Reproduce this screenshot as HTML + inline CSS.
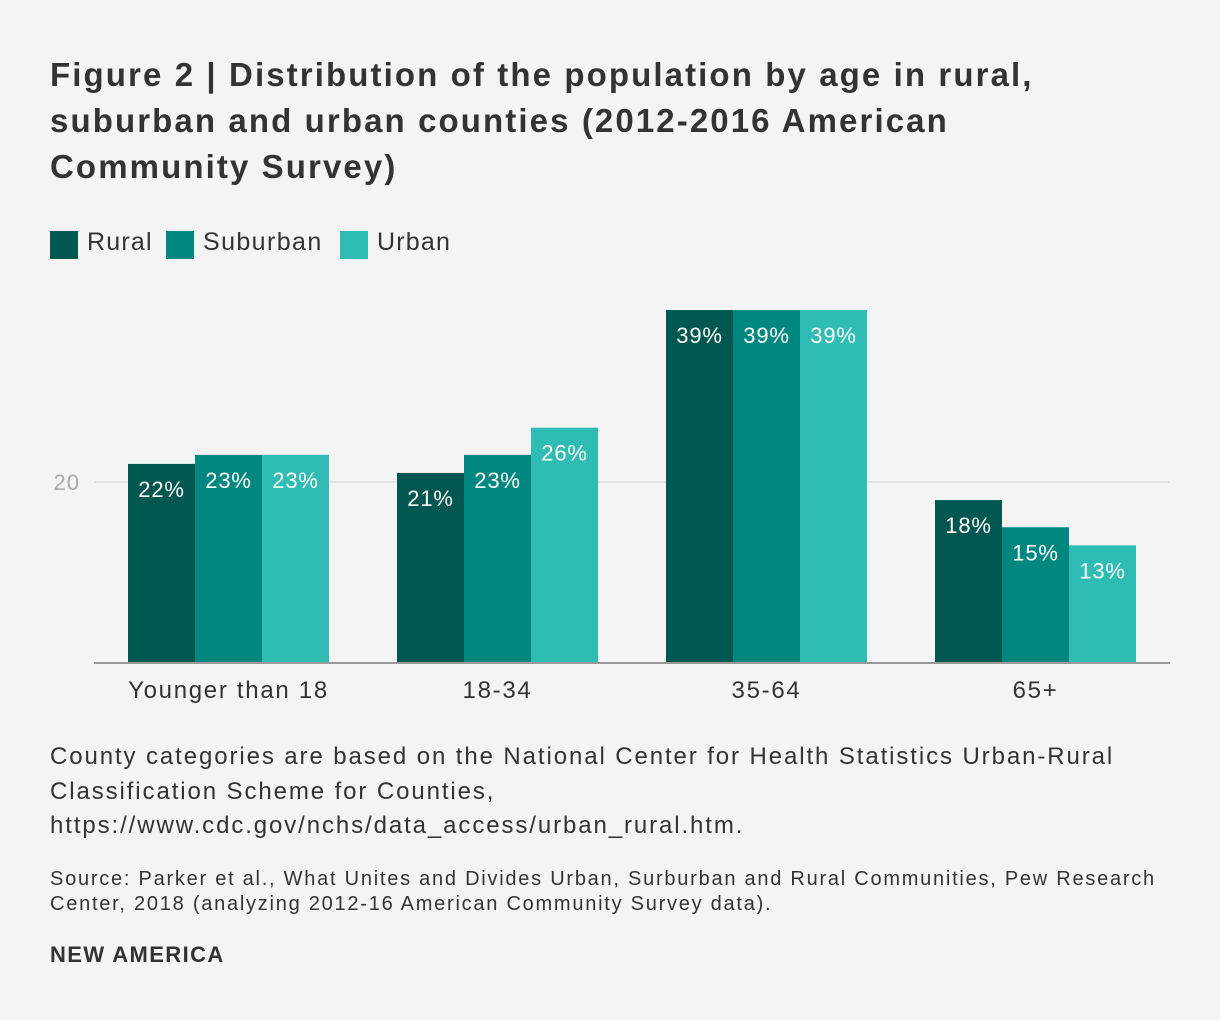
<!DOCTYPE html>
<html><head><meta charset="utf-8"><style>
body{margin:0;background:#f4f4f4;font-family:"Liberation Sans",sans-serif;color:#333;}
#wrap{position:relative;width:1220px;height:1020px;overflow:hidden;}
.t{position:absolute;white-space:nowrap;}
</style></head><body>
<div id="wrap">
<div class="t" style="left:50px;top:52px;font-size:33px;font-weight:bold;line-height:46px;letter-spacing:2.1px;color:#333;">Figure 2 | Distribution of the population by age in rural,<br>suburban and urban counties (2012-2016 American<br>Community Survey)</div>
<div>
<div style="position:absolute;left:50px;top:231px;width:28px;height:28px;background:#00574f"></div>
<div class="t" style="left:87px;top:228px;font-size:25px;letter-spacing:1.2px;">Rural</div>
<div style="position:absolute;left:166px;top:231px;width:28px;height:28px;background:#008880"></div>
<div class="t" style="left:203px;top:228px;font-size:25px;letter-spacing:1.4px;">Suburban</div>
<div style="position:absolute;left:340px;top:231px;width:28px;height:28px;background:#2fbcb4"></div>
<div class="t" style="left:377px;top:228px;font-size:25px;letter-spacing:1.2px;">Urban</div>
</div>
<svg id="chart" width="1220" height="720" style="position:absolute;left:0;top:0"></svg>
<div class="t" style="left:50px;top:740px;font-size:24px;line-height:34.5px;letter-spacing:1.9px;">County categories are based on the National Center for Health Statistics Urban-Rural<br>Classification Scheme for Counties,<br>https://www.cdc.gov/nchs/data_access/urban_rural.htm.</div>
<div class="t" style="left:50px;top:867px;font-size:20px;line-height:25px;letter-spacing:1.75px;">Source: Parker et al., What Unites and Divides Urban, Surburban and Rural Communities, Pew Research<br>Center, 2018 (analyzing 2012-16 American Community Survey data).</div>
<div class="t" style="left:50px;top:942px;font-size:22px;font-weight:bold;letter-spacing:1.4px;">NEW AMERICA</div>
</div>
<script>
const categories=["Younger than 18","18-34","35-64","65+"];
const seriesNames=["Rural","Suburban","Urban"];
const rural=[22,21,39,18];
const suburban=[23,23,39,15];
const urban=[23,26,39,13];
const ticks=[20];
const colors=["#00574f","#008880","#2fbcb4"];
const svg=document.getElementById('chart');
const NS="http://www.w3.org/2000/svg";
const x0=94,x1=1170,y0=663,pxPer=181/20;
const band=(x1-x0)/categories.length;
const y=v=>y0-v*pxPer;
const bx=(i,s)=>x0+i*band+34+s*67;
function mk(t,a){const e=document.createElementNS(NS,t);for(const k in a)e.setAttribute(k,a[k]);svg.appendChild(e);return e;}
ticks.forEach(t=>{
 const l=mk('line',{x1:x0,x2:x1,y1:y(t),y2:y(t),stroke:'#dcdcdc','stroke-width':1.5});
 
 
 const tx=mk('text',{x:80,y:y(t)+8,'text-anchor':'end','font-size':22,fill:'#aaa','font-family':'Liberation Sans','letter-spacing':1});
 tx.textContent=t;
 
 
});
[rural,suburban,urban].forEach((vals,s)=>{
 vals.forEach((v,i)=>{
  const r=mk('rect',{x:bx(i,s),y:y(v),width:67,height:y0-y(v),fill:colors[s]});
  
  
  const t=mk('text',{x:bx(i,s)+33.5,y:y(v)+33,'text-anchor':'middle','font-size':22,fill:'#fff','font-family':'Liberation Sans','letter-spacing':0.8});
  t.textContent=v+'%';
  
  
 });
});
const ax=mk('line',{x1:x0,x2:x1,y1:y0,y2:y0,stroke:'#999','stroke-width':2});


categories.forEach((c,i)=>{
 const t=mk('text',{x:x0+i*band+band/2,y:698,'text-anchor':'middle','font-size':24,fill:'#333','font-family':'Liberation Sans','letter-spacing':1.7});
 t.textContent=c;
 
 
});
</script>
</body></html>
